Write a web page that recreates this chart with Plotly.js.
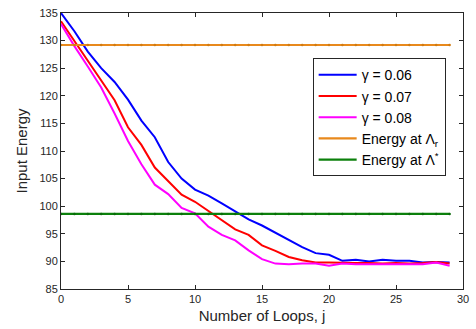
<!DOCTYPE html>
<html><head><meta charset="utf-8">
<script src="https://cdn.plot.ly/plotly-3.0.1.min.js"></script>
<style>html,body{margin:0;padding:0;background:#fff}#chart{width:476px;height:329px}</style>
</head><body><div id="chart"></div>
<script>
const loops = Array.from({length: 30}, (_, i) => i);
const gamma006 = [135.0,131.7,128.0,125.0,122.5,119.3,115.5,112.5,108.0,105.0,103.0,101.9,100.5,99.0,97.6,96.5,95.2,93.9,92.6,91.5,91.2,90.1,90.3,90.0,90.3,90.1,90.1,89.8,89.9,89.8];
const gamma007 = [133.5,129.9,126.4,122.8,119.2,114.3,111.1,107.0,104.6,102.1,100.8,99.1,97.5,95.8,94.8,92.9,91.9,90.8,90.2,89.8,89.8,89.7,89.7,89.7,89.6,89.7,89.6,89.7,89.9,89.6];
const gamma008 = [133.0,129.0,125.3,121.5,116.8,111.8,107.6,103.9,102.2,99.7,98.7,96.3,94.8,93.8,92.0,90.4,89.6,89.5,89.6,89.6,89.2,89.6,89.5,89.5,89.6,89.6,89.6,89.5,89.8,89.2];
const energyLambdaR = 129.2;
const energyLambdaStar = 98.6;
const seriesNames = ['γ = 0.06','γ = 0.07','γ = 0.08','Energy at Λ<sub>r</sub>','Energy at Λ<sup>*</sup>'];
const xTicks = [0,5,10,15,20,25,30];
const yTicks = [85,90,95,100,105,110,115,120,125,130,135];

const flatR = loops.map(() => energyLambdaR);
const flatS = loops.map(() => energyLambdaStar);

const traces = [
  {x: loops, y: gamma006, name: seriesNames[0], mode: 'lines', line: {color: '#0000ff', width: 2}},
  {x: loops, y: gamma007, name: seriesNames[1], mode: 'lines', line: {color: '#ff0000', width: 2}},
  {x: loops, y: gamma008, name: seriesNames[2], mode: 'lines', line: {color: '#ff00ff', width: 2}},
  {x: loops, y: flatR, name: seriesNames[3], mode: 'lines', line: {color: '#e8891c', width: 2.2}},
  {x: loops, y: flatS, name: seriesNames[4], mode: 'lines', line: {color: '#0c800c', width: 2.2}},
  {x: loops, y: flatR, mode: 'markers', showlegend: false, hoverinfo: 'skip', marker: {color: '#d07a10', size: 2.5}},
  {x: loops, y: flatS, mode: 'markers', showlegend: false, hoverinfo: 'skip', marker: {color: '#0a6a0a', size: 2.5}}
];

const axisCommon = {
  showgrid: false, zeroline: false, showline: true, mirror: 'ticks',
  linecolor: '#262626', linewidth: 1, ticks: 'inside', ticklen: 4, tickcolor: '#262626',
  tickfont: {family: 'Liberation Sans, Arial, sans-serif', size: 11, color: '#262626'}
};

const layout = {
  width: 476, height: 329,
  margin: {l: 61, r: 13, t: 13, b: 40},
  paper_bgcolor: '#fff', plot_bgcolor: '#fff',
  showlegend: true,
  xaxis: Object.assign({}, axisCommon, {
    range: [0, 30], tickvals: xTicks, ticktext: xTicks.map(String),
    title: {text: 'Number of Loops, j', font: {family: 'Liberation Sans, Arial, sans-serif', size: 15, color: '#262626'}, standoff: 6}
  }),
  yaxis: Object.assign({}, axisCommon, {
    range: [85, 135], tickvals: yTicks, ticktext: yTicks.map(String),
    title: {text: 'Input Energy', font: {family: 'Liberation Sans, Arial, sans-serif', size: 15, color: '#262626'}, standoff: 8}
  }),
  legend: {
    x: 0.626, y: 0.836, xanchor: 'left', yanchor: 'top',
    bgcolor: '#fff', bordercolor: '#262626', borderwidth: 1,
    font: {family: 'Liberation Sans, Arial, sans-serif', size: 14, color: '#000'},
    tracegroupgap: 0, itemwidth: 38
  }
};

Plotly.newPlot('chart', traces, layout, {staticPlot: true, displayModeBar: false});
</script></body></html>
